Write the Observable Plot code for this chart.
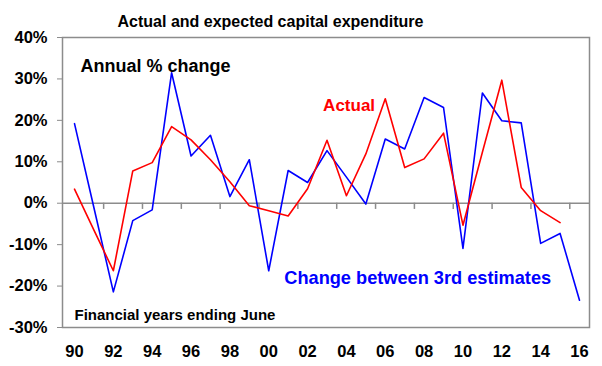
<!DOCTYPE html>
<html>
<head>
<meta charset="utf-8">
<script src="https://cdn.jsdelivr.net/npm/d3@7"></script>
<script src="https://cdn.jsdelivr.net/npm/@observablehq/plot@0.6"></script>
<style>
  html, body { margin: 0; padding: 0; background: #fff; }
  svg { display: block; }
</style>
</head>
<body>
<div id="chart"></div>
<script>
const title = "Actual and expected capital expenditure";
const years = d3.range(1990, 2017);
const actual = [3.4, -6.5, -16.3, 7.8, 9.8, 18.5, 15.3, 10.5, 5.2, -0.6, -1.8, -3.1, 3.5, 15.2, 1.8, 11.9, 25.2, 8.6, 10.7, 16.9, -5.3, 12.3, 29.7, 3.8, -1.8, -4.7];
const change3rd = [19.2, -1.1, -21.4, -4.2, -1.6, 31.5, 11.4, 16.4, 1.6, 10.5, -16.3, 7.9, 5.0, 12.7, 6.3, -0.2, 15.5, 13.1, 25.5, 23.1, -10.9, 26.6, 19.9, 19.4, -9.7, -7.3, -23.4];
const yTicks = [-30, -20, -10, 0, 10, 20, 30, 40];
const xLabelYears = d3.range(1990, 2017, 2);
const xTickYears = d3.range(1991.5, 2016, 2);

const actualData = actual.map((v, i) => ({year: years[i], value: v}));
const changeData = change3rd.map((v, i) => ({year: years[i], value: v}));

const font = "Liberation Sans, Arial, sans-serif";
const gray = "#8c8c8c";

const chart = Plot.plot({
  width: 602,
  height: 366,
  marginTop: 37,
  marginBottom: 39,
  marginLeft: 62,
  marginRight: 13,
  style: {fontFamily: font, background: "#fff", overflow: "visible"},
  x: {domain: [1989.382, 2016.515]},
  y: {domain: [-30, 40]},
  marks: [
    Plot.frame({stroke: gray, strokeWidth: 1.5}),
    Plot.ruleY([0], {stroke: gray, strokeWidth: 1.5}),
    Plot.ruleX(xTickYears, {x: d => d, y1: 0, y2: -1.5, stroke: gray, strokeWidth: 1.5}),
    Plot.axisY({ticks: yTicks, tickFormat: d => d + "%", tickSize: 5, tickPadding: 10, stroke: gray, fontSize: 16.5, fontWeight: "bold", fill: "#000", label: null}),
    Plot.axisX({ticks: xLabelYears, tickFormat: d => String(d % 100).padStart(2, "0"), tickSize: 0, tickPadding: 18, fontSize: 16.5, fontWeight: "bold", fill: "#000", label: null}),
    Plot.line(changeData, {x: "year", y: "value", stroke: "#0000ff", strokeWidth: 1.6}),
    Plot.line(actualData, {x: "year", y: "value", stroke: "#ff0000", strokeWidth: 1.6}),
    Plot.text([title], {frameAnchor: "top-left", dx: 208, dy: -22, text: d => d, fontSize: 16, fontWeight: "bold", fill: "#000", textAnchor: "middle"}),
    Plot.text(["Annual % change"], {frameAnchor: "top-left", dx: 18, dy: 22, text: d => d, fontSize: 18, fontWeight: "bold", fill: "#000", textAnchor: "start"}),
    Plot.text(["Actual"], {x: 2002.8, y: 23.5, text: d => d, fontSize: 17, fontWeight: "bold", fill: "#ff0000", textAnchor: "start"}),
    Plot.text(["Change between 3rd estimates"], {x: 2000.8, y: -18, text: d => d, fontSize: 18.2, fontWeight: "bold", fill: "#0000ff", textAnchor: "start"}),
    Plot.text(["Financial years ending June"], {frameAnchor: "bottom-left", dx: 12, dy: -8, text: d => d, fontSize: 15, fontWeight: "bold", fill: "#000", textAnchor: "start"})
  ]
});
document.getElementById("chart").appendChild(chart);
</script>
</body>
</html>
